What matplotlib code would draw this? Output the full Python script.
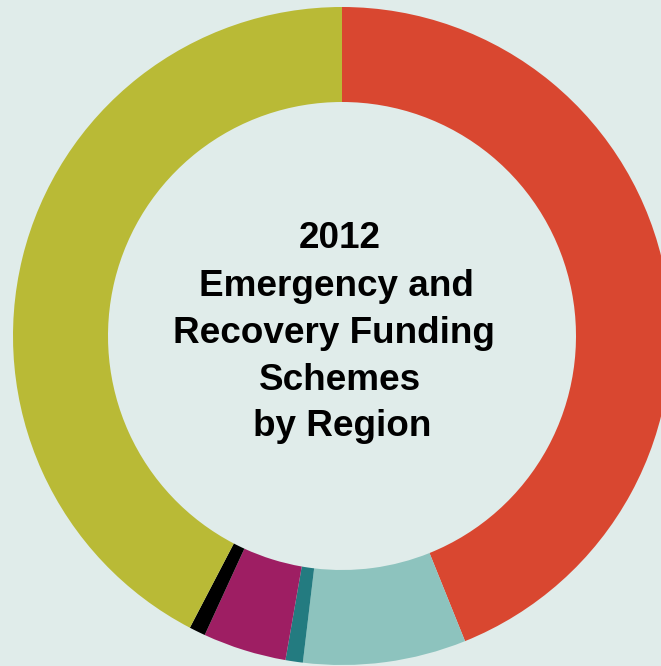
import matplotlib
matplotlib.use("Agg")
import matplotlib.pyplot as plt

# Share of 2012 emergency and recovery funding schemes by region (%)
regions = ["Region A", "Region B", "Region C", "Region D", "Region E", "Region F"]
shares = [43.9, 8.0, 0.85, 4.1, 0.8, 42.35]
colors = ["#d94730", "#8dc3be", "#237b80", "#9e1e63", "#000000", "#b9ba36"]

title_lines = ["2012", "Emergency and", "Recovery Funding", "Schemes", "by Region"]

W, H = 661, 666
bg = "#e0ecea"

fig = plt.figure(figsize=(W / 100, H / 100), dpi=100, facecolor=bg)
ax = fig.add_axes([0, 0, 1, 1])
ax.set_facecolor(bg)

cx, cy = 342, H - 336
outer_r, ring_w = 329, 95

ax.pie(shares, colors=colors, startangle=90, counterclock=False,
       radius=outer_r, center=(cx, cy),
       wedgeprops=dict(width=ring_w, linewidth=0, antialiased=True))

ax.set_xlim(0, W)
ax.set_ylim(0, H)
ax.set_aspect("equal")
ax.set_axis_off()

# centre title, one line at a time
baselines = [248, 296.5, 343.3, 390, 436]
xs = [340, 336, 334, 340.5, 342.5]
for txt, x, b in zip(title_lines, xs, baselines):
    ax.text(x, H - b, txt, ha="center", va="baseline",
            fontsize=26.6, fontweight="bold", family="Liberation Sans",
            color="#000000")

fig.savefig("out.png", dpi=100, facecolor=bg)
